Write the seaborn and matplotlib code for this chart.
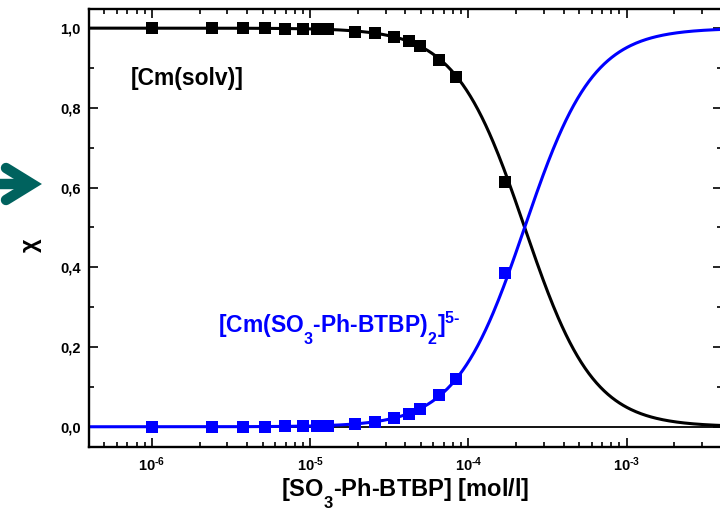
import numpy as np
import pandas as pd
import matplotlib
matplotlib.use("Agg")
import matplotlib.pyplot as plt
import seaborn as sns
from matplotlib.ticker import FixedLocator, FixedFormatter, LogLocator, MultipleLocator, NullFormatter
from matplotlib.lines import Line2D

# Ligand concentration of each titration step [mol/l]
conc = [1.0e-6, 2.41e-6, 3.77e-6, 5.16e-6, 6.92e-6, 9.04e-6, 1.10e-5, 1.29e-5,
        1.93e-5, 2.55e-5, 3.37e-5, 4.19e-5, 4.97e-5, 6.53e-5, 8.40e-5, 1.69e-4]
# Measured species fractions
frac_solv = [1.000, 1.000, 1.000, 1.000, 0.999, 0.999, 0.998, 0.998,
             0.990, 0.987, 0.978, 0.968, 0.956, 0.921, 0.877, 0.614]
frac_complex = [0.000, 0.000, 0.000, 0.000, 0.001, 0.002, 0.002, 0.003,
                0.006, 0.011, 0.021, 0.032, 0.044, 0.080, 0.121, 0.385]

# Conditional stability constant of the 1:2 complex used for the fit curves
log_beta = 7.29

xtick_pos = [1e-6, 1e-5, 1e-4, 1e-3]
xtick_labels = ["10$^{\\text{-}6}$", "10$^{\\text{-}5}$", "10$^{\\text{-}4}$", "10$^{\\text{-}3}$"]
ytick_pos = [0.0, 0.2, 0.4, 0.6, 0.8, 1.0]
ytick_labels = ["0,0", "0,2", "0,4", "0,6", "0,8", "1,0"]

label_solv = "[Cm(solv)]"
label_complex = "[Cm(SO$_3$-Ph-BTBP)$_2$]$^{5\\text{-}}$"
xlabel = "[SO$_3$-Ph-BTBP] [mol/l]"
ylabel = "\u03c7"

sns.set_style("ticks")
plt.rcParams["font.family"] = ["Liberation Sans", "DejaVu Sans"]
plt.rcParams["font.weight"] = "bold"
plt.rcParams["text.color"] = "black"
plt.rcParams["axes.labelcolor"] = "black"
plt.rcParams["xtick.color"] = "black"
plt.rcParams["ytick.color"] = "black"
plt.rcParams["mathtext.fontset"] = "custom"
plt.rcParams["mathtext.rm"] = "Liberation Sans:bold"
plt.rcParams["mathtext.bf"] = "Liberation Sans:bold"
plt.rcParams["mathtext.it"] = "Liberation Sans:bold"
plt.rcParams["mathtext.default"] = "rm"

# Deeper chemical-formula subscripts
try:
    import matplotlib._mathtext as _mt
    _mt.FontConstantsBase.sub1 = 0.95
except Exception:
    pass

BLUE = "#0000FF"
BLACK = "#000000"
TEAL = "#00625E"

# Speciation curves from the 1:2 complexation model
L = np.logspace(np.log10(4e-7), np.log10(4.2e-3), 500)
fit_solv = 1.0 / (1.0 + 10 ** log_beta * L ** 2)
fit = pd.DataFrame({"L": L, "solv": fit_solv, "complex": 1.0 - fit_solv})
pts = pd.DataFrame({"conc": conc, "solv": frac_solv, "complex": frac_complex})

W, H = 720, 511
fig = plt.figure(figsize=(W / 100, H / 100), dpi=100)
ax = fig.add_axes([89 / W, (H - 446.7) / H, 633 / W, (446.7 - 9) / H])

ax.axhline(0.0, color=BLACK, lw=1.3, zorder=1)
sns.lineplot(data=fit, x="L", y="solv", ax=ax, color=BLACK, lw=2.2, zorder=2)
sns.lineplot(data=fit, x="L", y="complex", ax=ax, color=BLUE, lw=2.2, zorder=2)
sns.scatterplot(data=pts, x="conc", y="solv", ax=ax, marker="s", s=85,
                color=BLACK, edgecolor=BLACK, linewidth=0, zorder=3)
sns.scatterplot(data=pts, x="conc", y="complex", ax=ax, marker="s", s=85,
                color=BLUE, edgecolor=BLUE, linewidth=0, zorder=3)

ax.set_xscale("log")
ax.set_xlim(4e-7, 4e-3)
ax.set_ylim(-0.05, 1.048)
ax.set_xlabel("")
ax.set_ylabel("")

ax.xaxis.set_major_locator(FixedLocator(xtick_pos))
ax.xaxis.set_major_formatter(FixedFormatter(xtick_labels))
ax.xaxis.set_minor_locator(LogLocator(base=10, subs=np.arange(2, 10), numticks=20))
ax.xaxis.set_minor_formatter(NullFormatter())
ax.yaxis.set_major_locator(FixedLocator(ytick_pos))
ax.yaxis.set_major_formatter(FixedFormatter(ytick_labels))
ax.yaxis.set_minor_locator(MultipleLocator(0.1))

ax.tick_params(which="both", direction="in", top=True, right=True, width=1.2,
               colors=BLACK, labelcolor=BLACK)
ax.tick_params(which="major", length=6.5)
ax.tick_params(which="minor", length=3.5)
ax.tick_params(axis="y", which="major", labelsize=10.5, pad=6)
ax.tick_params(axis="x", which="major", labelsize=10.5, pad=6)
for s in ax.spines.values():
    s.set_linewidth(1.7)
    s.set_color(BLACK)

ax.text(7.3e-7, 0.857, label_solv, color=BLACK, fontsize=16.5, fontweight="bold",
        ha="left", va="baseline")
ax.text(2.62e-6, 0.237, label_complex, color=BLUE, fontsize=16.5, fontweight="bold",
        ha="left", va="baseline")

fig.text(405 / W, 14 / H, xlabel, color=BLACK, fontsize=17, fontweight="bold",
         ha="center", va="baseline")
fig.text(30 / W, (H - 245) / H, ylabel, color=BLACK, fontsize=17, fontweight="bold",
         rotation=90, ha="center", va="center")

# Teal arrow pointing at the 0,6 tick
def fx(x):
    return x / W

def fy(y):
    return (H - y) / H

fig.add_artist(Line2D([fx(0), fx(30)], [fy(184), fy(184)], color=TEAL, lw=7.5,
                      solid_capstyle="butt"))
fig.add_artist(Line2D([fx(6), fx(32), fx(6)], [fy(168), fy(184), fy(200)], color=TEAL,
                      lw=7.5, solid_capstyle="round", solid_joinstyle="miter"))

fig.savefig("out.png", dpi=100)
